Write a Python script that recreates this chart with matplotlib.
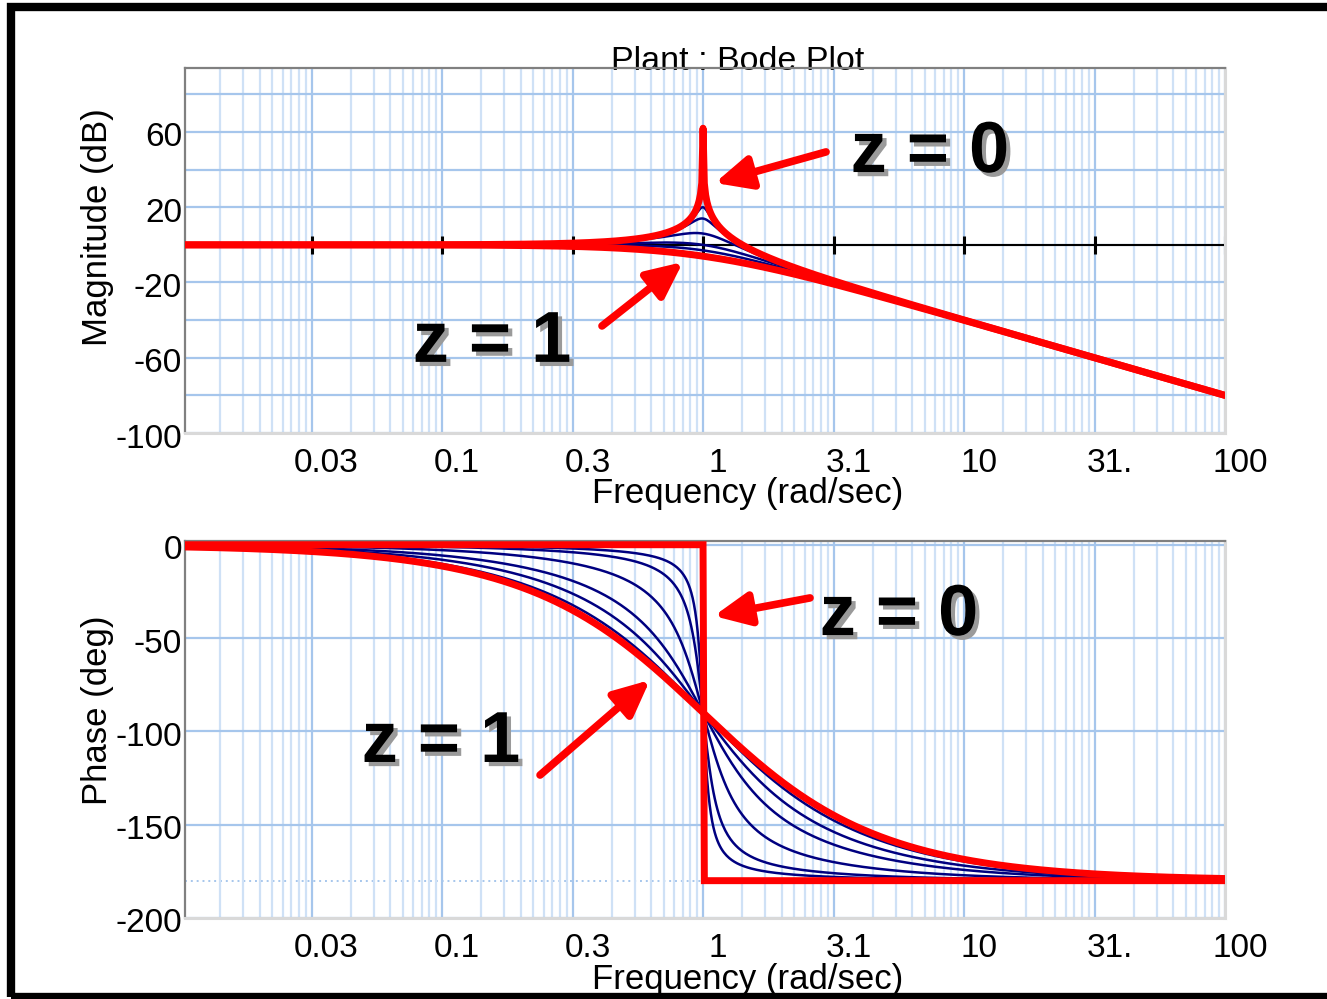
import numpy as np
import matplotlib
matplotlib.use("Agg")
import matplotlib.pyplot as plt
from matplotlib import transforms
from matplotlib import patheffects as pe
from matplotlib.patches import Rectangle
from matplotlib.ticker import FixedLocator, NullFormatter

# ---------------- data ----------------
zeta_red = [0.0, 1.0]                         # highlighted damping ratios
zeta_blue = [0.05, 0.1, 0.25, 0.5, 0.7, 0.9]  # intermediate damping ratios
omega_min_exp, omega_max_exp, n_omega = -2, 2, 801
peak_clip_db = 62.0                           # finite peak of the undamped curve

mag_tick_values = [60, 20, -20, -60, -100]
mag_tick_labels = ["60", "20", "-20", "-60", "-100"]
mag_minor_values = [80, 40, 0, -40, -80]
phase_tick_values = [0, -50, -100, -150, -200]
phase_tick_labels = ["0", "-50", "-100", "-150", "-200"]
freq_tick_exps = [-1.5, -1.0, -0.5, 0.0, 0.5, 1.0, 1.5, 2.0]
freq_tick_labels = ["0.03", "0.1", "0.3", "1", "3.1", "10", "31.", "100"]

# ---------------- figure ----------------
plt.rcParams["font.family"] = ["Liberation Sans", "DejaVu Sans"]
W, H = 1327, 999
fig = plt.figure(figsize=(W / 100, H / 100), dpi=100)
fig.patch.set_facecolor("white")


def rect(l, t, r, b):
    return [l / W, 1 - b / H, (r - l) / W, (b - t) / H]


ax1 = fig.add_axes(rect(185, 68, 1225, 433))
ax2 = fig.add_axes(rect(185, 541, 1225, 918))

omega = np.logspace(omega_min_exp, omega_max_exp, n_omega)


def response(z):
    den = 1 - omega ** 2 + 2j * z * omega
    with np.errstate(divide="ignore"):
        mag = -20 * np.log10(np.abs(den))
    mag = np.minimum(mag, peak_clip_db)
    ph = -np.degrees(np.arctan2(2 * z * omega, 1 - omega ** 2))
    return mag, ph


grid_major_c = "#a6c6ec"
grid_minor_c = "#cfe1f6"
major_pos = [10 ** e for e in freq_tick_exps]
minor_pos = []
for k in np.arange(-4, 4) * 0.5:
    for m in range(2, 10):
        minor_pos.append(10 ** (k + 0.5 * np.log10(m)))

for ax in (ax1, ax2):
    ax.set_xscale("log")
    ax.set_xlim(10 ** -1.985, 100)
    ax.xaxis.set_major_locator(FixedLocator(major_pos))
    ax.xaxis.set_minor_locator(FixedLocator(minor_pos))
    ax.xaxis.set_major_formatter(NullFormatter())
    ax.xaxis.set_minor_formatter(NullFormatter())
    ax.yaxis.set_major_formatter(NullFormatter())
    ax.yaxis.set_minor_formatter(NullFormatter())
    ax.tick_params(which="both", length=0)
    ax.grid(which="major", color=grid_major_c, lw=1.6, zorder=0)
    ax.grid(which="minor", axis="x", color=grid_minor_c, lw=1.6, zorder=0)
    ax.set_axisbelow(True)
    for s in ("left", "top"):
        ax.spines[s].set_color("#808080")
        ax.spines[s].set_linewidth(1.6)
    for s in ("right", "bottom"):
        ax.spines[s].set_color("#d9d9d9")
        ax.spines[s].set_linewidth(2.2)

# magnitude axes
ax1.set_ylim(-100, 94)
ax1.yaxis.set_major_locator(FixedLocator(mag_tick_values))
ax1.yaxis.set_minor_locator(FixedLocator(mag_minor_values))
ax1.grid(which="minor", axis="y", color=grid_major_c, lw=1.6, zorder=0)

# phase axes
ax2.set_ylim(-200, 2)
ax2.yaxis.set_major_locator(FixedLocator(phase_tick_values))
ax2.axhline(-180, color=grid_major_c, lw=1.4, ls=(0, (1, 2)), zorder=0.5)

# 0 dB axis line with ticks
ax1.axhline(0, color="black", lw=1.5, zorder=1.5)
ax1.plot(major_pos, np.zeros(len(major_pos)), ls="none", marker="|",
         ms=13, mew=2.2, color="black", zorder=1.6)

# curves
for z in zeta_blue:
    m, p = response(z)
    ax1.plot(omega, m, color="#000080", lw=1.8, zorder=3)
    ax2.plot(omega, p, color="#000080", lw=1.8, zorder=3)
for z in zeta_red:
    m, p = response(z)
    ax1.plot(omega, m, color="#ff0000", lw=5.0, zorder=4,
             solid_joinstyle="round", solid_capstyle="round")
    ax2.plot(omega, p, color="#ff0000", lw=5.0, zorder=4,
             solid_joinstyle="miter", solid_capstyle="butt")

# tick labels (manual, offset like the reference)
for ax, vals, labs in ((ax1, mag_tick_values, mag_tick_labels),
                       (ax2, phase_tick_values, phase_tick_labels)):
    tr = transforms.blended_transform_factory(ax.transAxes, ax.transData)
    off = transforms.ScaledTranslation(-3 / 100, -6 / 100, fig.dpi_scale_trans)
    for v, lab in zip(vals, labs):
        ax.text(0, v, lab, transform=tr + off, ha="right", va="center",
                fontsize=24, clip_on=False)
    trx = transforms.blended_transform_factory(ax.transData, ax.transAxes)
    offx = transforms.ScaledTranslation(15 / 100, -15 / 100, fig.dpi_scale_trans)
    for e, lab in zip(freq_tick_exps, freq_tick_labels):
        ax.text(10 ** e, 0, lab, transform=trx + offx, ha="center", va="top",
                fontsize=24, clip_on=False)

# axis labels & title
fig.text(97 / W, 1 - 227 / H, "Magnitude (dB)", rotation=90, ha="center",
         va="center", fontsize=25)
fig.text(97 / W, 1 - 710 / H, "Phase (deg)", rotation=90, ha="center",
         va="center", fontsize=25)
fig.text(748 / W, 1 - 493 / H, "Frequency (rad/sec)", ha="center",
         va="center", fontsize=25)
fig.text(748 / W, 1 - 979 / H, "Frequency (rad/sec)", ha="center",
         va="center", fontsize=25)
ax1.text(0.531, 1 - 2 / 365, "Plant : Bode Plot", transform=ax1.transAxes,
         ha="center", va="baseline", fontsize=24.5, zorder=2, clip_on=False)

# annotations
arrow_kw = dict(arrowstyle="-|>,head_length=0.9,head_width=0.42",
                color="#ff0000", lw=5.5, mutation_scale=24,
                shrinkA=0, shrinkB=0)
txt_kw = dict(fontsize=52, fontweight="bold", ha="center", va="baseline",
              color="black", zorder=6,
              path_effects=[pe.withSimplePatchShadow(offset=(3, -3),
                                                     shadow_rgbFace="#9a9a9a",
                                                     alpha=1.0)])

ax1.annotate("", xy=(1.11, 32.9), xytext=(2.96, 49.4), arrowprops=arrow_kw,
             zorder=5)
ax1.annotate("", xy=(0.838, -9.1), xytext=(0.410, -43.1), arrowprops=arrow_kw,
             zorder=5)
ax1.text(7.41, 38.7, "z = 0", **txt_kw)
ax1.text(0.1555, -62.2, "z = 1", **txt_kw)

ax2.annotate("", xy=(1.10, -38.2), xytext=(2.57, -28.5), arrowprops=arrow_kw,
             zorder=5)
ax2.annotate("", xy=(0.626, -72.5), xytext=(0.2374, -123.4),
             arrowprops=arrow_kw, zorder=5)
ax2.text(5.64, -48.4, "z = 0", **txt_kw)
ax2.text(0.0991, -116.4, "z = 1", **txt_kw)

# outer black frame
fig.add_artist(Rectangle((11 / W, 1 - 997 / H), (1345 - 11) / W, (997 - 7) / H,
                         transform=fig.transFigure, fill=False,
                         ec="black", lw=6, clip_on=False))

fig.savefig("out.png", dpi=100)
